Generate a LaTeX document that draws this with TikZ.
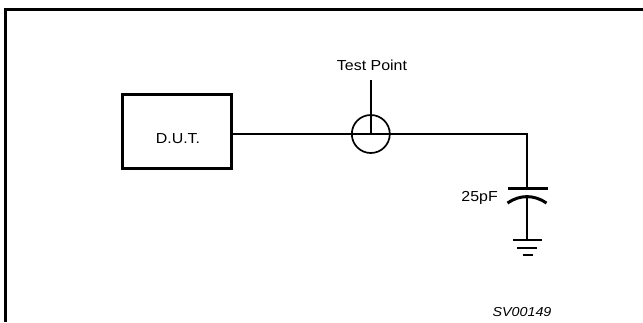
\documentclass[tikz,border=0pt]{standalone}
\usepackage{fontspec}
\setmainfont{Liberation Sans}
\newfontfamily\lblfont{Liberation Sans}[FakeStretch=1.1]
\begin{document}
\begin{tikzpicture}[x=1pt,y=-1pt,
  wire/.style={line width=1.7pt},
  dutbox/.style={draw,line width=3pt,minimum width=109pt,minimum height=74pt,inner sep=0pt},
  plate/.style={line width=3pt},
  gnd/.style={line width=2.8pt},
  lbl/.style={font=\lblfont\fontsize{14.5}{16}\selectfont,inner sep=0pt}]
\useasboundingbox (0,0) rectangle (643,322);
\fill[white] (0,0) rectangle (643,322);
% frame
\draw[line width=2.8pt] (5.3,322) -- (5.3,9.7) -- (643,9.7);
% DUT
\node[dutbox] (dut) at (177,131.5) {};
\node[lbl,anchor=base] (dutlbl) at (178,143.5) {D.U.T.};
% test point
\node[draw,circle,line width=1.7pt,minimum size=38pt,inner sep=0pt] (tp) at (370.8,134) {};
\coordinate (tptop) at (370.8,80);
\node[lbl,anchor=base] (tplbl) at (372,70.7) {Test Point};
\coordinate (corner) at (527,134);
\coordinate (captop) at (527,188);
\coordinate (capbot) at (527,197.5);
\coordinate (g1) at (527,240);
\draw[wire] (dut.east |- tp.center) -- (corner) -- (captop);
\draw[wire] (tptop) -- (tp.center);
% capacitor
\draw[plate] (508,188) -- (548,188);
\draw[plate] (507.5,203) .. controls (520,194.5) and (534,194.5) .. (546.5,203);
\draw[wire] (capbot) -- (g1);
\node[lbl,anchor=base east] (caplbl) at (498,201.7) {25pF};
% ground
\draw[gnd] (513,240) -- (542,240);
\draw[gnd] (517,248) -- (537,248);
\draw[gnd] (522.5,255) -- (532.5,255);
% id
\node[font=\lblfont\fontsize{13}{15}\selectfont\itshape,anchor=base,inner sep=0pt] (id) at (522,316.7) {SV00149};
\end{tikzpicture}
\end{document}
